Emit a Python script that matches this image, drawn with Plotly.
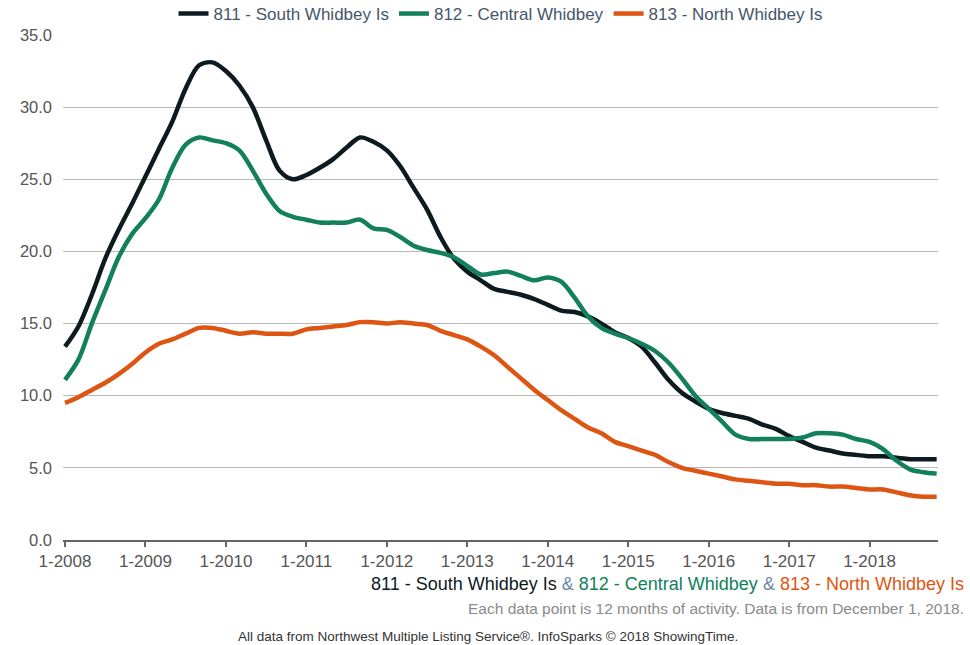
import plotly.graph_objects as go

# Months since January 2008, sampled every second month through November 2018
months = list(range(0, 131, 2))

south_whidbey = [
    13.4, 14.8, 17.0, 19.5, 21.5, 23.3, 25.2, 27.1, 29.0, 31.3,
    32.9, 33.1, 32.5, 31.5, 30.0, 27.7, 25.6, 25.0, 25.3, 25.8,
    26.4, 27.2, 27.9, 27.6, 27.0, 25.9, 24.4, 22.9, 21.0, 19.5,
    18.6, 18.0, 17.4, 17.2, 17.0, 16.7, 16.3, 15.9, 15.8, 15.5,
    15.0, 14.4, 14.0, 13.4, 12.3, 11.1, 10.2, 9.6, 9.1, 8.8,
    8.6, 8.4, 8.0, 7.7, 7.2, 6.8, 6.4, 6.2, 6.0, 5.9,
    5.8, 5.8, 5.7, 5.6, 5.6, 5.6,
]
central_whidbey = [
    11.1, 12.5, 15.0, 17.3, 19.6, 21.2, 22.3, 23.6, 25.8, 27.4,
    27.9, 27.7, 27.5, 27.0, 25.6, 24.0, 22.8, 22.4, 22.2, 22.0,
    22.0, 22.0, 22.2, 21.6, 21.5, 21.0, 20.4, 20.1, 19.9, 19.6,
    19.0, 18.4, 18.5, 18.6, 18.3, 18.0, 18.2, 17.9, 16.8, 15.5,
    14.7, 14.3, 14.0, 13.6, 13.1, 12.3, 11.2, 10.0, 9.1, 8.2,
    7.3, 7.0, 7.0, 7.0, 7.0, 7.1, 7.4, 7.4, 7.3, 7.0,
    6.8, 6.3, 5.5, 4.9, 4.7, 4.6,
]
north_whidbey = [
    9.5, 9.9, 10.4, 10.9, 11.5, 12.2, 13.0, 13.6, 13.9, 14.3,
    14.7, 14.7, 14.5, 14.3, 14.4, 14.3, 14.3, 14.3, 14.6, 14.7,
    14.8, 14.9, 15.1, 15.1, 15.0, 15.1, 15.0, 14.9, 14.5, 14.2,
    13.9, 13.4, 12.8, 12.0, 11.2, 10.4, 9.7, 9.0, 8.4, 7.8,
    7.4, 6.8, 6.5, 6.2, 5.9, 5.4, 5.0, 4.8, 4.6, 4.4,
    4.2, 4.1, 4.0, 3.9, 3.9, 3.8, 3.8, 3.7, 3.7, 3.6,
    3.5, 3.5, 3.3, 3.1, 3.0, 3.0,
]

series_names = ["811 - South Whidbey Is", "812 - Central Whidbey", "813 - North Whidbey Is"]
series_colors = ["#0d1b21", "#12805a", "#dd5512"]

tick_months = list(range(0, 121, 12))
tick_labels = ["1-2008", "1-2009", "1-2010", "1-2011", "1-2012", "1-2013",
               "1-2014", "1-2015", "1-2016", "1-2017", "1-2018"]
y_ticks = [0, 5, 10, 15, 20, 25, 30, 35]

FONT = "Liberation Sans, Arial, sans-serif"
PLOT_H = 645 - 35 - 105
PLOT_W = 970 - 63 - 32

fig = go.Figure()
for name, values, color in zip(series_names,
                               [south_whidbey, central_whidbey, north_whidbey],
                               series_colors):
    fig.add_trace(go.Scatter(
        x=months, y=values, name=name, mode="lines",
        line=dict(color=color, width=4.5, shape="spline", smoothing=0.9),
        hoverinfo="skip",
    ))

fig.update_layout(
    width=970, height=645,
    margin=dict(l=63, r=32, t=35, b=105, autoexpand=False),
    plot_bgcolor="white", paper_bgcolor="white",
    font=dict(family=FONT, color="#555555", size=14),
    showlegend=True,
    legend=dict(
        orientation="h", x=0.5, xanchor="center",
        y=1 + (35 - 14) / PLOT_H, yanchor="middle",
        font=dict(family=FONT, size=17, color="#46566a"),
        itemwidth=30, traceorder="normal",
        bgcolor="rgba(0,0,0,0)",
    ),
    xaxis=dict(
        range=[-0.3, 130.2], tickmode="array", tickvals=tick_months,
        ticktext=tick_labels, showgrid=False, zeroline=False,
        showline=True, linecolor="#666666", linewidth=2,
        ticks="outside", ticklen=5, tickwidth=2, tickcolor="#666666",
        tickfont=dict(family=FONT, size=17, color="#555555"),
    ),
    yaxis=dict(
        range=[0, 35], tickmode="array", tickvals=y_ticks,
        ticktext=[f"{v:.1f}" for v in y_ticks],
        showgrid=True, gridcolor="#b8b8b8", gridwidth=1, zeroline=False,
        showline=False, ticks="", ticklabelstandoff=10,
        tickfont=dict(family=FONT, size=16.5, color="#555555"),
    ),
)

amp = '<span style="color:#6a86a8"> &amp; </span>'
subtitle = (
    f'<span style="color:{series_colors[0]}">{series_names[0]}</span>' + amp +
    f'<span style="color:{series_colors[1]}">{series_names[1]}</span>' + amp +
    f'<span style="color:{series_colors[2]}">{series_names[2]}</span>'
)
right_x = (966 - 63) / PLOT_W
fig.add_annotation(
    text=subtitle, xref="paper", yref="paper", x=right_x,
    y=-(584 - 540) / PLOT_H, xanchor="right", yanchor="middle",
    showarrow=False, font=dict(family=FONT, size=18),
)
fig.add_annotation(
    text="Each data point is 12 months of activity. Data is from December 1, 2018.",
    xref="paper", yref="paper", x=right_x, y=-(608 - 540) / PLOT_H,
    xanchor="right", yanchor="middle", showarrow=False,
    font=dict(family=FONT, size=15.5, color="#8a8a8a"),
)
fig.add_annotation(
    text="All data from Northwest Multiple Listing Service®. InfoSparks © 2018 ShowingTime.",
    xref="paper", yref="paper", x=(488 - 63) / PLOT_W, y=-(636 - 540) / PLOT_H,
    xanchor="center", yanchor="middle", showarrow=False,
    font=dict(family=FONT, size=13.5, color="#333333"),
)

fig.write_html("out.html")
